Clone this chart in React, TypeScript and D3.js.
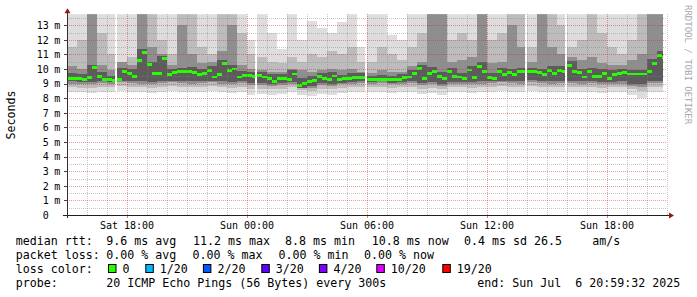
import React from "react";
import * as d3 from "d3";

const MIN = 60000;
const START = Date.UTC(2025, 6, 5, 15, 0);
const END = Date.UTC(2025, 6, 6, 21, 0);
const DATA_END = Date.UTC(2025, 6, 6, 20, 48);
const MEDIAN_STEP = 15 * MIN;
const BAND_STEP = 30 * MIN;
const PING_STEP = 5 * MIN;

// median rtt (ms), one value per 15 minutes from Sat 15:00
const medianRtt = [
  9.38, 9.38, 9.35, 9.3, 9.4, 10.1, 9.5, 9.3, 9.25, 9.2,
  9.3, 9.85, 9.7, 9.5, 10.6, 11.15, 10.3, 9.7, 9.7, 10.7,
  9.6, 9.75, 9.8, 9.8, 9.85, 9.75, 9.6, 9.7, 9.9, 9.45,
  9.6, 10.4, 9.9, 10.0, 9.45, 9.55, 9.55, 9.5, 9.55, 9.45,
  9.36, 9.15, 9.36, 9.36, 9.25, 9.66, 8.85, 9.0, 9.13, 9.2,
  9.47, 9.35, 9.25, 9.52, 9.25, 9.35, 9.36, 9.43, 9.43, 9.43,
  9.25, 9.25, 9.25, 9.3, 9.25, 9.25, 9.3, 9.4, 9.45, 9.7,
  10.05, 9.36, 9.7, 9.86, 9.5, 9.36, 9.8, 9.5, 9.45, 9.36,
  9.93, 9.4, 10.2, 9.8, 9.4, 9.36, 9.85, 9.6, 9.75, 9.6,
  9.8, 9.8, 9.8, 9.8, 9.75, 9.6, 9.9, 9.7, 9.9, 9.8,
  10.27, 9.8, 9.75, 9.45, 9.8, 9.5, 9.5, 9.7, 9.36, 9.6,
  9.7, 9.75, 9.66, 9.66, 9.66, 9.66, 9.8, 10.4, 10.9, 10.8,
];

// smoke envelopes (ms), one value per 30 minutes from Sat 15:00
const lightLo = [
  8.45, 8.4, 8.35, 8.45, 8.4, 8.5, 8.45, 8.4, 8.35, 8.45,
  8.5, 8.45, 8.4, 8.45, 8.5, 8.4, 8.35, 8.45, 8.2, 8.3,
  8.25, 8.3, 8.4, 8.2, 8.15, 8.3, 8.25, 8.35, 8.4, 8.45,
  8.4, 8.45, 8.35, 8.4, 8.45, 8.3, 8.35, 8.2, 8.4, 8.4,
  8.35, 8.4, 8.45, 8.5, 8.45, 8.4, 8.5, 8.45, 8.4, 8.45,
  8.45, 8.4, 8.45, 8.35, 8.4, 8.4, 8.2, 8.0, 8.45, 8.45,
];
const lightHi = [
  14.5, 14.5, 14.5, 14.5, 14.5, 14.5, 14.5, 14.5, 14.5, 14.5,
  14.5, 14.5, 14.5, 14.5, 14.5, 14.5, 14.5, 14.5, 12.0, 14.5,
  12.5, 11.4, 14.5, 12.0, 13.3, 12.8, 12.5, 13.2, 14.5, 11.5,
  14.5, 14.5, 12.3, 12.0, 14.5, 14.5, 14.5, 14.5, 14.5, 14.5,
  14.5, 14.5, 14.5, 14.5, 14.5, 14.5, 14.5, 14.5, 14.5, 14.5,
  14.5, 14.5, 14.5, 14.5, 14.5, 14.5, 14.5, 14.5, 14.5, 14.5,
];
const midLo = [
  8.75, 8.7, 8.7, 8.8, 8.75, 8.85, 8.8, 8.75, 8.7, 8.8,
  8.85, 8.8, 8.75, 8.8, 8.85, 8.75, 8.7, 8.8, 8.6, 8.65,
  8.6, 8.65, 8.75, 8.55, 8.5, 8.65, 8.6, 8.7, 8.75, 8.8,
  8.75, 8.8, 8.7, 8.75, 8.8, 8.65, 8.7, 8.6, 8.75, 8.75,
  8.7, 8.75, 8.8, 8.85, 8.8, 8.75, 8.85, 8.8, 8.75, 8.8,
  8.8, 8.75, 8.8, 8.7, 8.75, 8.75, 8.6, 8.5, 8.8, 8.8,
];
const midHi = [
  11.5, 12.0, 14.5, 12.5, 11.0, 10.5, 10.8, 14.5, 14.5, 12.0,
  11.0, 14.5, 14.5, 11.5, 11.0, 14.5, 14.5, 12.5, 11.0, 10.8,
  10.5, 10.4, 10.8, 10.5, 11.0, 10.8, 11.2, 11.0, 11.5, 10.5,
  10.5, 11.5, 11.0, 10.6, 11.5, 12.5, 14.5, 14.5, 12.0, 12.5,
  12.0, 14.5, 12.0, 12.5, 14.5, 14.5, 11.5, 14.5, 14.5, 13.0,
  11.5, 12.0, 14.5, 12.5, 11.5, 11.0, 12.0, 14.5, 14.5, 14.5,
];
const darkLo = [
  9.0, 8.95, 8.95, 9.05, 9.0, 9.1, 9.05, 9.0, 8.95, 9.05,
  9.1, 9.05, 9.0, 9.05, 9.1, 9.0, 8.95, 9.05, 8.9, 8.9,
  8.85, 8.9, 9.0, 8.75, 8.7, 8.9, 8.85, 8.95, 9.0, 9.05,
  9.0, 9.05, 8.95, 9.0, 9.05, 8.9, 8.95, 8.85, 9.0, 9.0,
  8.95, 9.0, 9.05, 9.1, 9.05, 9.0, 9.1, 9.05, 9.0, 9.05,
  9.05, 9.0, 9.05, 8.95, 9.0, 9.0, 8.85, 8.8, 9.05, 9.05,
];
const darkHi = [
  10.2, 10.0, 14.5, 10.3, 9.9, 10.5, 10.3, 14.5, 11.5, 11.0,
  10.3, 13.0, 11.0, 10.4, 10.5, 11.2, 13.0, 10.3, 10.0, 9.9,
  9.8, 9.8, 10.0, 9.9, 9.8, 9.9, 10.0, 9.9, 10.0, 9.8,
  9.7, 9.9, 9.8, 9.8, 10.2, 10.5, 14.5, 14.5, 10.5, 10.6,
  10.8, 14.5, 10.4, 10.5, 13.0, 11.5, 10.5, 14.5, 11.5, 11.0,
  10.8, 10.6, 10.8, 10.4, 10.3, 10.3, 10.6, 11.0, 14.5, 14.5,
];
const coreLo = [
  9.15, 9.1, 9.1, 9.15, 9.1, 9.2, 9.15, 9.15, 9.1, 9.15,
  9.2, 9.2, 9.15, 9.2, 9.2, 9.15, 9.1, 9.15, 9.05, 9.05,
  9.0, 9.05, 9.1, 8.7, 8.85, 9.05, 9.0, 9.05, 9.1, 9.15,
  9.1, 9.15, 9.05, 9.1, 9.15, 9.05, 9.1, 9.0, 9.1, 9.1,
  9.1, 9.15, 9.15, 9.2, 9.2, 9.15, 9.25, 9.2, 9.15, 9.2,
  9.2, 9.15, 9.2, 9.1, 9.1, 9.15, 9.0, 8.95, 9.2, 9.2,
];
const coreHi = [
  9.7, 9.65, 10.3, 9.8, 9.55, 10.1, 10.0, 11.4, 10.5, 10.9,
  10.0, 10.1, 10.15, 10.0, 10.2, 10.6, 10.3, 9.85, 9.8, 9.8,
  9.65, 9.65, 9.9, 9.35, 9.5, 9.75, 9.8, 9.6, 9.7, 9.7,
  9.55, 9.6, 9.55, 9.65, 9.95, 10.3, 10.15, 9.8, 10.1, 9.75,
  10.2, 10.5, 9.7, 10.1, 10.0, 10.1, 10.1, 10.0, 10.2, 10.2,
  10.55, 10.0, 10.1, 10.0, 9.9, 10.0, 9.95, 9.95, 10.7, 11.2,
];

// samples with no data
const missingSamples = [
  Date.UTC(2025, 6, 5, 17, 25),
  Date.UTC(2025, 6, 6, 0, 25),
  Date.UTC(2025, 6, 6, 5, 55),
  Date.UTC(2025, 6, 6, 13, 55),
  Date.UTC(2025, 6, 6, 15, 55),
];

const majorTimes = [
  Date.UTC(2025, 6, 5, 18),
  Date.UTC(2025, 6, 6, 0),
  Date.UTC(2025, 6, 6, 6),
  Date.UTC(2025, 6, 6, 12),
  Date.UTC(2025, 6, 6, 18),
];
const majorLabels = ["Sat 18:00", "Sun 00:00", "Sun 06:00", "Sun 12:00", "Sun 18:00"];

const yTickValues = [0, 1, 2, 3, 4, 5, 6, 7, 8, 9, 10, 11, 12, 13];
const yTickLabels = ["0", "1", "2", "3", "4", "5", "6", "7", "8", "9", "10", "11", "12", "13"];

const lossLabels = ["0", "1/20", "2/20", "3/20", "4/20", "10/20", "19/20"];
const lossColors = ["#26ff00", "#00b8ff", "#0059ff", "#5e00ff", "#7e00ff", "#dd00ff", "#ff0000"];

const rttRow = ["median rtt:", "9.6 ms avg", "11.2 ms max", "8.8 ms min", "10.8 ms now", "0.4 ms sd", "26.5", "am/s"];
const lossRow = ["packet loss:", "0.00 % avg", "0.00 % max", "0.00 % min", "0.00 % now"];
const probeRow = ["probe:", "20 ICMP Echo Pings (56 Bytes) every 300s", "end: Sun Jul  6 20:59:32 2025"];

// layout
const W = 697;
const H = 297;
const PL = 67;
const PR = 667;
const PB = 215;
const PT = 14.25;
const rttX = [15.7, 106.3, 193, 285, 371.7, 464, 534, 592.3];
const lossX = [15.7, 106.3, 192.6, 278.5, 364];
const probeX = [15.7, 106.3, 477.3];
const swatchX = [108.5, 145.8, 203.4, 261.8, 319.4, 376.8, 442.8];
const MONO = "'DejaVu Sans Mono', monospace";
const LEG = 11.63;

export default function App() {
  const x = d3.scaleUtc().domain([START, END]).range([PL, PR]);
  const y = d3.scaleLinear().domain([0, 13.75]).range([PB, PT]);

  const bands = [
    { lo: lightLo, hi: lightHi, color: "#dddddd" },
    { lo: midLo, hi: midHi, color: "#bcbcbc" },
    { lo: darkLo, hi: darkHi, color: "#8e8e8e" },
    { lo: coreLo, hi: coreHi, color: "#5c5c5c" },
  ];

  const bucketRect = (i: number, step: number) => {
    const t0 = START + i * step;
    const t1 = Math.min(START + (i + 1) * step, DATA_END);
    return { x0: x(t0), x1: x(t1) };
  };

  const hours = d3.utcHour.range(START + 3600000, END + 1);
  const majorSet = new Set(majorTimes);
  const minorHours = hours.filter((d) => !majorSet.has(+d));
  const minorY = d3.range(0.5, 13.75, 0.5).filter((v) => v % 1 !== 0);
  const majorY = yTickValues.filter((v) => v > 0);

  return (
    <svg
      width={W}
      height={H}
      viewBox={`0 0 ${W} ${H}`}
      style={{ position: "absolute", left: 0, top: 0, background: "#fff" }}
    >
      <rect x={0} y={0} width={W} height={H} fill="#fff" />
      <defs>
        <clipPath id="plot">
          <rect x={PL} y={PT} width={PR - PL} height={PB - PT} />
        </clipPath>
      </defs>

      <g clipPath="url(#plot)" shapeRendering="crispEdges">
        {bands.map((b, bi) =>
          b.lo.map((lo, i) => {
            const r = bucketRect(i, BAND_STEP);
            if (r.x1 <= r.x0) return null;
            return (
              <rect
                key={`b${bi}-${i}`}
                x={r.x0}
                y={y(b.hi[i])}
                width={r.x1 - r.x0}
                height={y(lo) - y(b.hi[i])}
                fill={b.color}
              />
            );
          })
        )}
        {medianRtt.map((m, i) => {
          const r = bucketRect(i, MEDIAN_STEP);
          if (r.x1 <= r.x0) return null;
          return (
            <rect
              key={`m${i}`}
              x={r.x0}
              y={y(m + 0.1)}
              width={r.x1 - r.x0}
              height={y(m - 0.1) - y(m + 0.1)}
              fill={lossColors[0]}
            />
          );
        })}
        {missingSamples.map((t, i) => (
          <rect
            key={`g${i}`}
            x={x(t)}
            y={PT}
            width={x(t + PING_STEP) - x(t)}
            height={PB - PT}
            fill="#fff"
          />
        ))}
      </g>

      <g shapeRendering="crispEdges">
        {minorY.map((v) => (
          <line key={`hy${v}`} x1={PL} x2={PR} y1={Math.round(y(v)) + 0.5} y2={Math.round(y(v)) + 0.5}
            stroke="rgba(130,130,130,0.45)" strokeDasharray="1,1" />
        ))}
        {minorHours.map((d) => (
          <line key={`vx${+d}`} x1={Math.round(x(d)) + 0.5} x2={Math.round(x(d)) + 0.5} y1={PT} y2={PB}
            stroke="rgba(130,130,130,0.45)" strokeDasharray="1,1" />
        ))}
        {majorY.map((v) => (
          <line key={`my${v}`} x1={PL} x2={PR} y1={Math.round(y(v)) + 0.5} y2={Math.round(y(v)) + 0.5}
            stroke="rgba(200,40,40,0.45)" strokeDasharray="1,1" />
        ))}
        {majorTimes.map((t) => (
          <line key={`mx${t}`} x1={Math.round(x(t)) + 0.5} x2={Math.round(x(t)) + 0.5} y1={PT} y2={PB}
            stroke="rgba(200,40,40,0.45)" strokeDasharray="1,1" />
        ))}
        {majorY.map((v) => (
          <line key={`ty${v}`} x1={PL - 3} x2={PL} y1={Math.round(y(v)) + 0.5} y2={Math.round(y(v)) + 0.5} stroke="#444" />
        ))}
        {majorTimes.map((t) => (
          <line key={`tx${t}`} x1={Math.round(x(t)) + 0.5} x2={Math.round(x(t)) + 0.5} y1={PB} y2={PB + 3} stroke="rgba(200,40,40,0.6)" />
        ))}
        <line x1={PL - 4} x2={PR + 3} y1={PB + 0.5} y2={PB + 0.5} stroke="#202020" />
        <line x1={PL + 0.5} x2={PL + 0.5} y1={PB + 3} y2={PT - 2} stroke="#3a2a2a" />
      </g>
      <path d={`M${PR + 2},${PB - 2.5} L${PR + 7},${PB + 0.5} L${PR + 2},${PB + 3.5} Z`} fill="#8b1a1a" />
      <path d={`M${PL - 2.5},${PT - 1} L${PL + 0.5},${PT - 6} L${PL + 3.5},${PT - 1} Z`} fill="#8b1a1a" />

      <g fontFamily={MONO} fontSize={10} fill="#000">
        {yTickValues.map((v, i) => (
          <g key={`yl${v}`}>
            <text x={48.7} y={y(v) + 3.7} textAnchor="end">{yTickLabels[i]}</text>
            {v > 0 && <text x={54.2} y={y(v) + 3.7}>m</text>}
          </g>
        ))}
        {majorTimes.map((t, i) => (
          <text key={`xl${t}`} x={x(t)} y={229} textAnchor="middle">{majorLabels[i]}</text>
        ))}
      </g>

      <text transform="translate(15.3,115) rotate(-90)" textAnchor="middle" fontFamily={MONO} fontSize={LEG} fill="#000">
        Seconds
      </text>
      <text transform="translate(685,5) rotate(90)" fontFamily={MONO} fontSize={9} fill="#a8a8a8">
        RRDTOOL / TOBI OETIKER
      </text>

      <g fontFamily={MONO} fontSize={LEG} fill="#000">
        {rttRow.map((s, i) => (
          <text key={`r${i}`} x={rttX[i]} y={245} xmlSpace="preserve">{s}</text>
        ))}
        {lossRow.map((s, i) => (
          <text key={`l${i}`} x={lossX[i]} y={259} xmlSpace="preserve">{s}</text>
        ))}
        <text x={15.7} y={273}>loss color:</text>
        {lossLabels.map((s, i) => (
          <g key={`c${i}`}>
            <rect x={swatchX[i]} y={264.5} width={7.5} height={8} fill={lossColors[i]} stroke="#000" strokeWidth={1} />
            <text x={swatchX[i] + 14} y={273}>{s}</text>
          </g>
        ))}
        {probeRow.map((s, i) => (
          <text key={`p${i}`} x={probeX[i]} y={287} xmlSpace="preserve" style={{ whiteSpace: "pre" }}>{s}</text>
        ))}
      </g>
    </svg>
  );
}
